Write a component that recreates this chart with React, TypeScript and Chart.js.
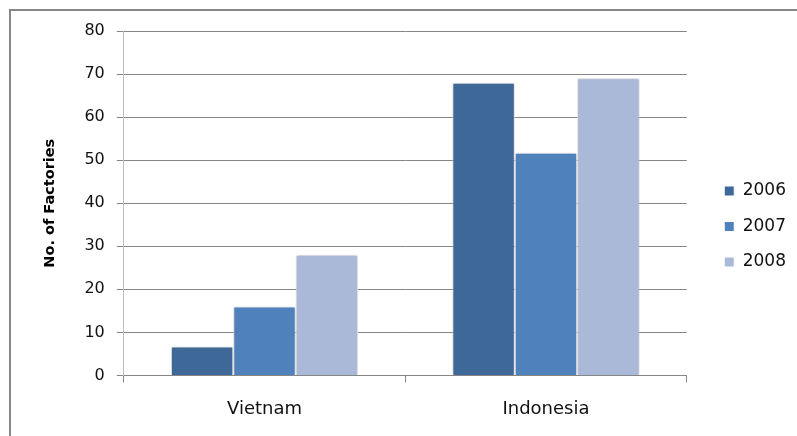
import React, { useEffect, useRef } from "react";
import { Chart, registerables } from "chart.js";

Chart.register(...registerables);

const categories = ["Vietnam", "Indonesia"];
const seriesNames = ["2006", "2007", "2008"];
const values2006 = [6.7, 68];
const values2007 = [16, 51.7];
const values2008 = [28, 69];
const yTicks = [0, 10, 20, 30, 40, 50, 60, 70, 80];
const colors = ["#3E6898", "#4F81BD", "#AAB9D7"];

const FONT = "'DejaVu Sans', sans-serif";

const framePlugin = {
  id: "frame",
  afterLayout(chart: any) {
    if (chart.legend) {
      chart.legend.top -= 7;
      chart.legend.bottom -= 7;
    }
  },
  beforeDraw(chart: any) {
    const ctx = chart.ctx;
    ctx.save();
    ctx.strokeStyle = "#878787";
    ctx.lineWidth = 2;
    ctx.beginPath();
    ctx.moveTo(10, chart.height + 5);
    ctx.lineTo(10, 10);
    ctx.lineTo(chart.width + 5, 10);
    ctx.stroke();
    ctx.restore();
  },
  beforeDatasetsDraw(chart: any) {
    const ctx = chart.ctx;
    ctx.save();
    ctx.shadowColor = "rgba(0,0,0,0.28)";
    ctx.shadowBlur = 4;
    ctx.shadowOffsetX = 0;
    ctx.shadowOffsetY = 0;
  },
  afterDatasetsDraw(chart: any) {
    chart.ctx.restore();
  },
};

export default function App() {
  const ref = useRef<HTMLCanvasElement | null>(null);
  useEffect(() => {
    if (!ref.current) return;
    const series = [values2006, values2007, values2008];
    const chart = new Chart(ref.current, {
      type: "bar",
      data: {
        labels: categories,
        datasets: seriesNames.map((name, i) => ({
          label: name,
          data: series[i],
          backgroundColor: colors[i],
          borderColor: "#ffffff",
          borderWidth: 1,
          categoryPercentage: 0.665,
          barPercentage: 1,
        })),
      },
      options: {
        animation: false,
        responsive: false,
        maintainAspectRatio: false,
        layout: { padding: { left: 42, right: 1, top: 31, bottom: 0 } },
        plugins: {
          tooltip: { enabled: false },
          legend: {
            position: "right",
            labels: {
              boxWidth: 10,
              boxHeight: 10,
              padding: 18.5,
              color: "#111",
              font: { family: FONT, size: 17 },
            },
          },
        },
        scales: {
          x: {
            grid: {
              offset: true,
              drawOnChartArea: false,
              drawTicks: true,
              tickLength: 7,
              color: "#868686",
            },
            border: { color: "#868686", width: 1 },
            ticks: { color: "#111", padding: 16, font: { family: FONT, size: 18 } },
          },
          y: {
            min: 0,
            max: 80,
            afterBuildTicks(scale: any) {
              scale.ticks = yTicks.map((v) => ({ value: v }));
            },
            grid: { color: "#868686", tickLength: 7, drawTicks: true },
            border: { color: "#BFBFBF", width: 1 },
            ticks: { color: "#111", padding: 12, font: { family: FONT, size: 16 } },
            title: {
              display: true,
              text: "No. of Factories",
              color: "#000",
              padding: { top: 0, bottom: 13 },
              font: { family: FONT, size: 14.5, weight: "bold" },
            },
          },
          spacer: {
            type: "linear",
            position: "right",
            display: true,
            grid: { display: false, drawTicks: false },
            border: { display: false },
            ticks: { display: false },
            afterFit(scale: any) {
              scale.width = 19;
            },
          },
        },
      },
      plugins: [framePlugin],
    });
    return () => chart.destroy();
  }, []);
  return (
    <div style={{ position: "absolute", left: 0, top: 0, width: 797, height: 436 }}>
      <canvas ref={ref} width={797} height={436} style={{ width: 797, height: 436 }} />
    </div>
  );
}
